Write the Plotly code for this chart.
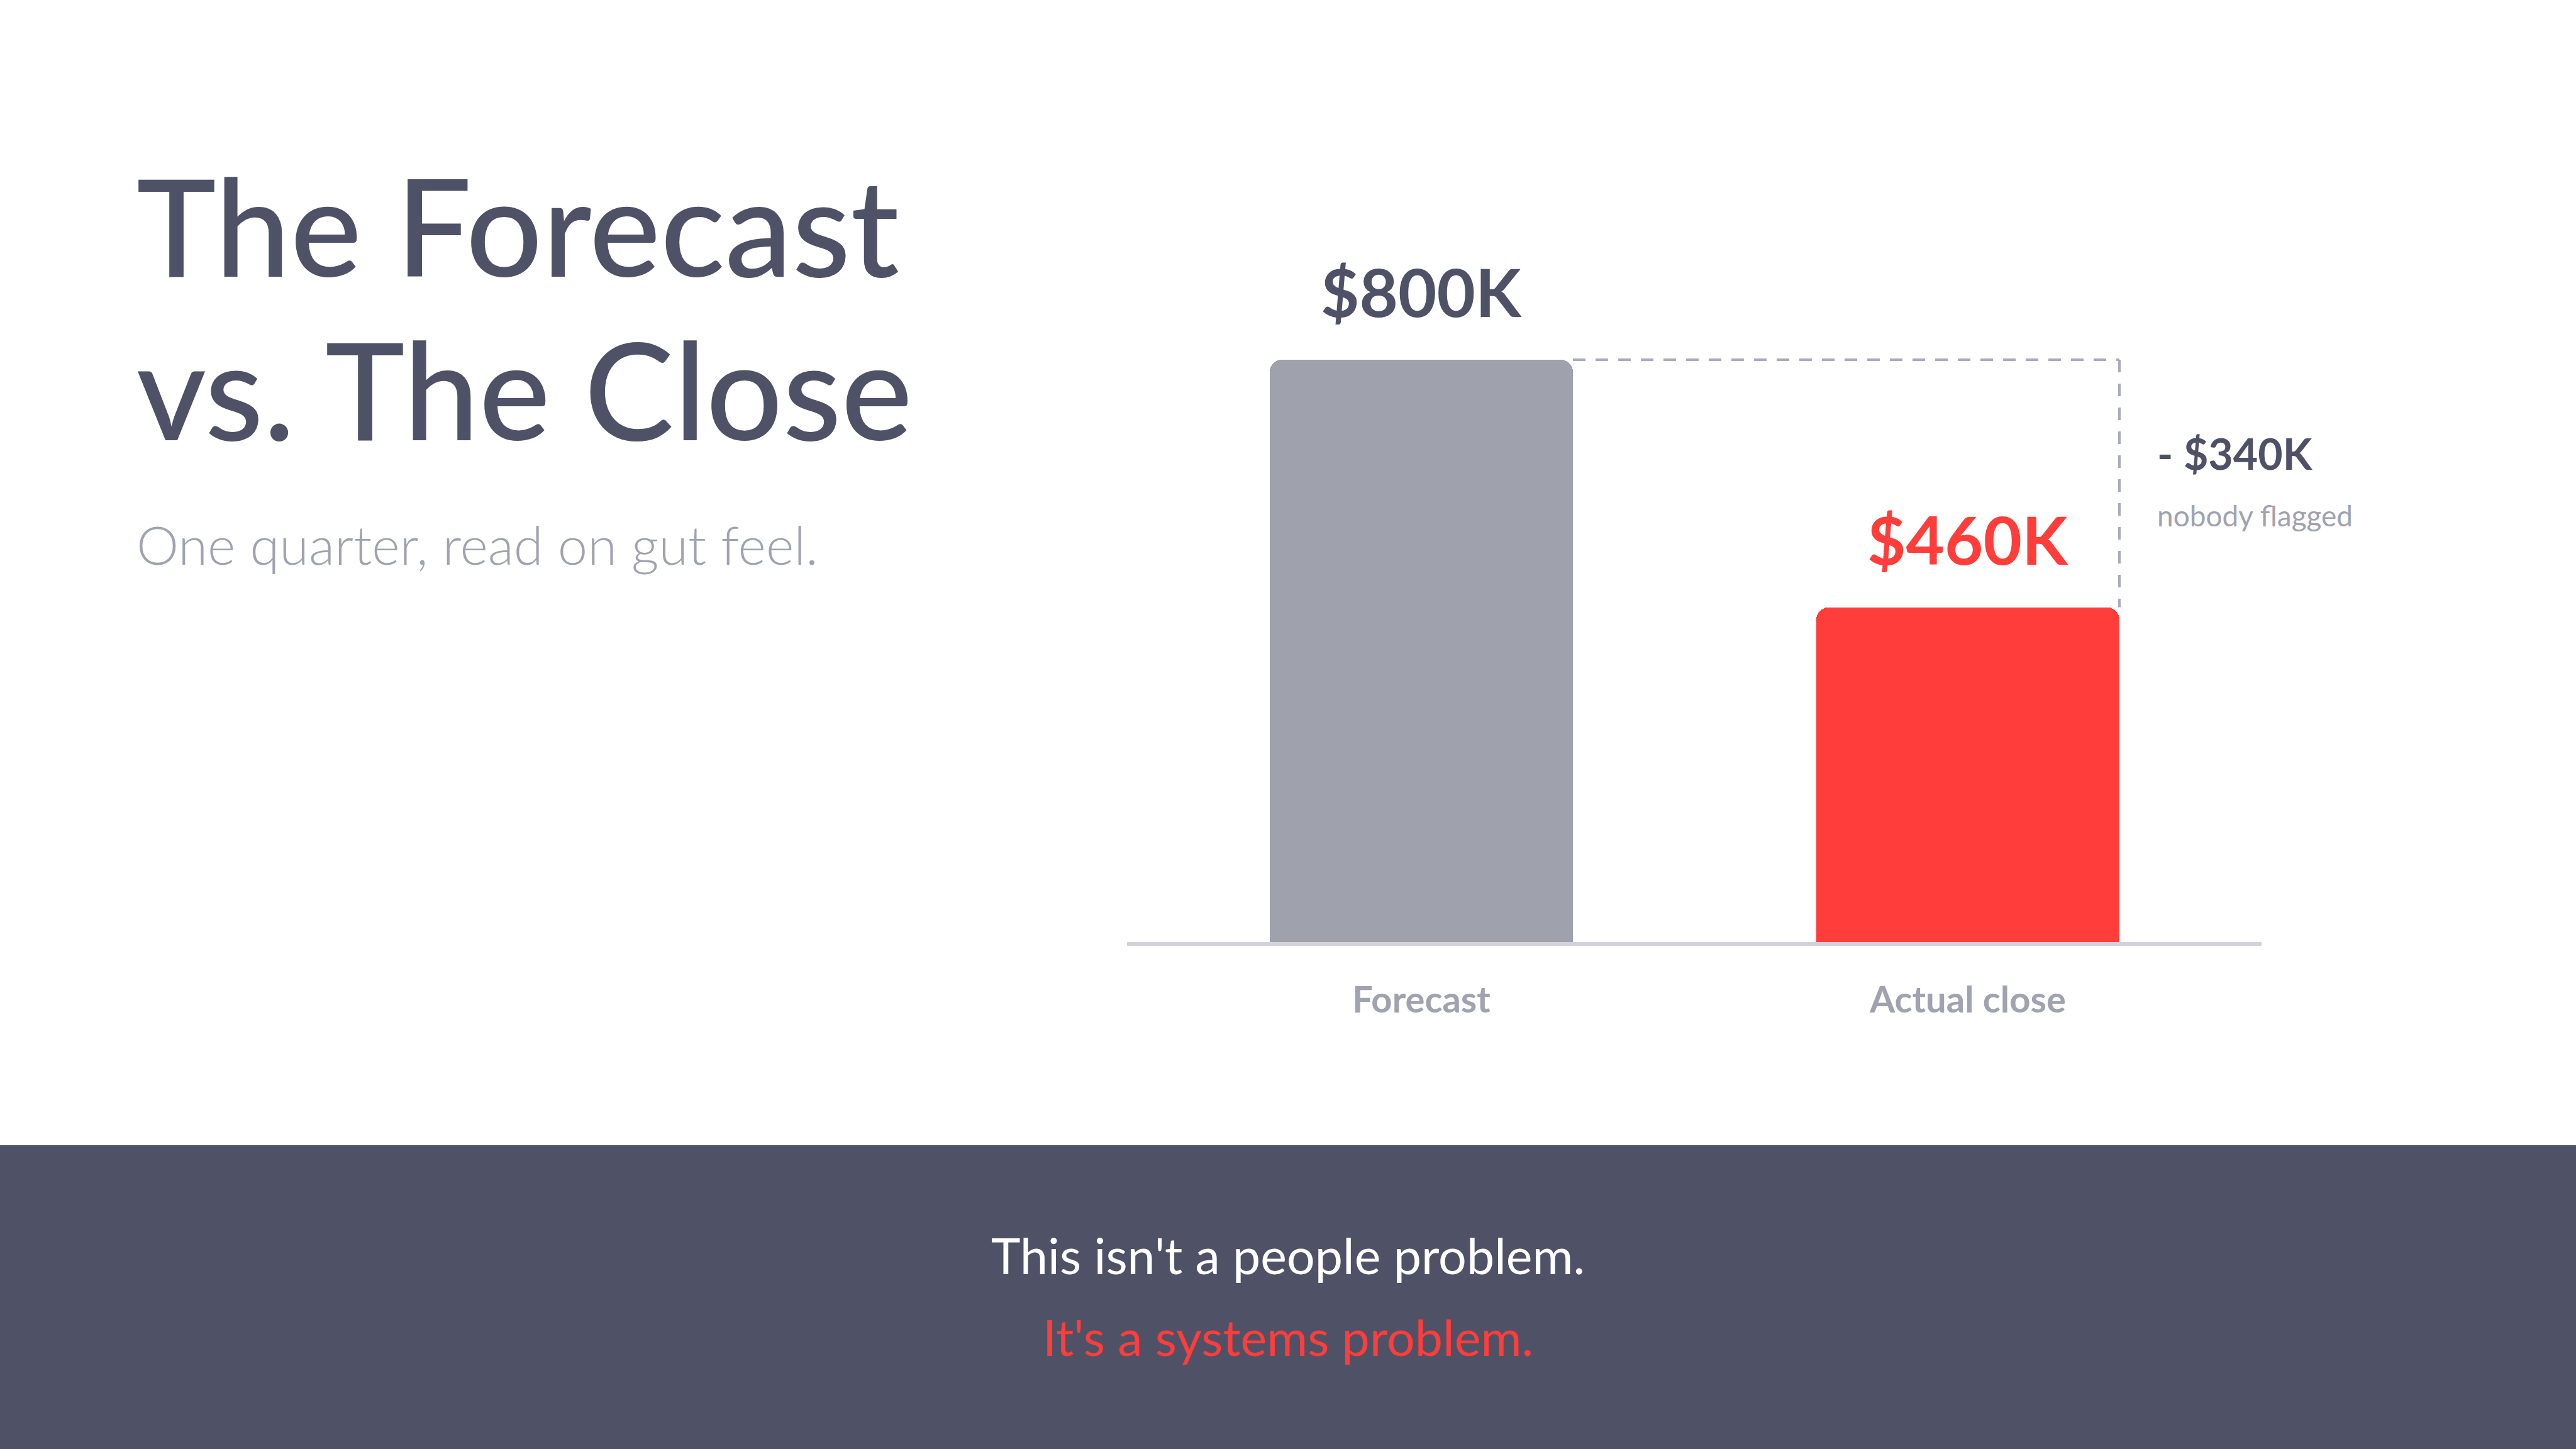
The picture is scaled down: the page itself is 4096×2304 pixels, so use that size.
import plotly.graph_objects as go

# ---- data ----
categories = ["Forecast", "Actual close"]
values_k = [800, 460]
title_lines = ["The Forecast", "vs. The Close"]
subtitle = "One quarter, read on gut feel."
gap_note = "nobody flagged"
footer_lines = ["This isn't a people problem.", "It's a systems problem."]

# ---- style ----
FONT = "Lato"
DARK = "#4f5167"
GREY_BAR = "#9fa1ad"
RED = "#ff3d3a"
MUTED = "#a0a2af"
DASH = "#a9abb8"
AXIS = "#d2d3da"
BAND = "#4f5267"

W, H = 4096, 2304
BAR_W = 0.5547

fig = go.Figure()
fig.add_trace(go.Bar(
    x=categories, y=values_k, width=BAR_W,
    marker=dict(color=[GREY_BAR, RED], cornerradius=20, line=dict(width=0)),
    hoverinfo="skip",
))

label_colors = [DARK, RED]
annotations = []
for cat, v, c in zip(categories, values_k, label_colors):
    annotations.append(dict(
        x=cat, y=v, xref="x", yref="y", text=f"${v}K", showarrow=False,
        yanchor="bottom", yshift=43,
        font=dict(family=FONT, size=106, color=c, weight=700),
    ))

# gap bracket
gap = values_k[0] - values_k[1]
x_right = 1 + BAR_W / 2
x_left0 = 0 + BAR_W / 2
shapes = [
    dict(type="line", xref="x", yref="y", x0=x_left0, x1=x_right, y0=values_k[0], y1=values_k[0],
         line=dict(color=DASH, width=4, dash="20px,16px")),
    dict(type="line", xref="x", yref="y", x0=x_right, x1=x_right, y0=values_k[0], y1=values_k[1],
         line=dict(color=DASH, width=4, dash="20px,18px")),
    dict(type="rect", xref="paper", yref="paper", x0=0, x1=1, y0=0, y1=(H - 1821) / H,
         fillcolor=BAND, line=dict(width=0), layer="below"),
]
mid = (values_k[0] + values_k[1]) / 2
annotations.append(dict(
    x=x_right, y=mid, xref="x", yref="y", text=f"- ${gap}K", showarrow=False,
    xanchor="left", yanchor="bottom", xshift=58, yshift=6,
    font=dict(family=FONT, size=68, color=DARK, weight=700),
))
annotations.append(dict(
    x=x_right, y=mid, xref="x", yref="y", text=gap_note, showarrow=False,
    xanchor="left", yanchor="top", xshift=58, yshift=-21,
    font=dict(family=FONT, size=46, color=MUTED),
))

# title block
title_y = [0.845, 0.7318]
for t, yy in zip(title_lines, title_y):
    annotations.append(dict(
        x=0.0525, y=yy, xref="paper", yref="paper", text=t, showarrow=False,
        xanchor="left", yanchor="middle",
        font=dict(family=FONT, size=214, color=DARK, weight=500),
    ))
annotations.append(dict(
    x=0.0525, y=0.6246, xref="paper", yref="paper", text=subtitle, showarrow=False,
    xanchor="left", yanchor="middle",
    font=dict(family=FONT, size=85, color=MUTED, weight=300),
))

# footer
for t, yy, c in zip(footer_lines, [0.1337, 0.0773], ["#ffffff", RED]):
    annotations.append(dict(
        x=0.5, y=yy, xref="paper", yref="paper", text=t, showarrow=False,
        xanchor="center", yanchor="middle",
        font=dict(family=FONT, size=79, color=c),
    ))

y0_dom = (H - 1498) / H
y1_dom = 0.85
px_per_unit = 926 / 800
R = (y1_dom - y0_dom) * H / px_per_unit

fig.update_layout(
    width=W, height=H, margin=dict(l=0, r=0, t=0, b=0),
    paper_bgcolor="white", plot_bgcolor="white",
    showlegend=False, bargap=0,
    shapes=shapes, annotations=annotations,
    xaxis=dict(domain=[1792 / W, 3596 / W], range=[-0.5386, 1.5374],
               showgrid=False, zeroline=False, showline=True, linecolor=AXIS, linewidth=6,
               layer="below traces", ticks="", ticklabelstandoff=36,
               tickfont=dict(family=FONT, size=58, color=MUTED, weight=700), fixedrange=True),
    yaxis=dict(domain=[y0_dom, y1_dom], range=[0, R], visible=False, fixedrange=True),
)

fig.write_html("out.html")
